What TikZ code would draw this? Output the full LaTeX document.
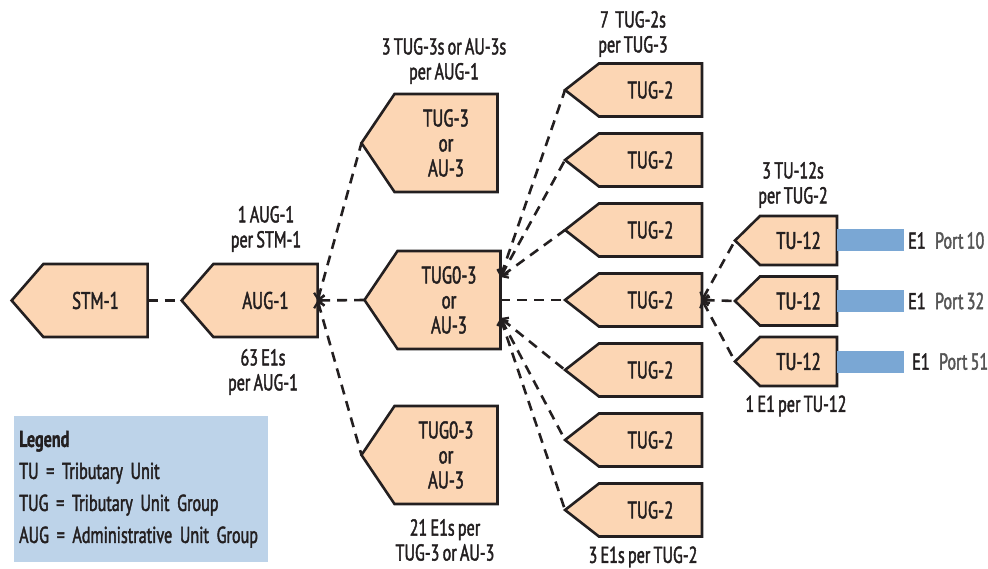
\documentclass[tikz,border=0pt]{standalone}
\usepackage{fontspec}
\setmainfont{PT Sans}[FakeStretch=0.7,WordSpace=0.75,UprightFeatures={FakeBold=1.8},BoldFeatures={FakeBold=1.2}]
\usetikzlibrary{arrows.meta,positioning,shapes.symbols,calc}
\definecolor{peach}{RGB}{252,214,180}
\definecolor{inkline}{RGB}{35,31,32}
\definecolor{barblue}{RGB}{122,167,212}
\definecolor{legendblue}{RGB}{189,211,233}
\definecolor{portgray}{RGB}{85,85,85}

\begin{document}
\begin{tikzpicture}[x=1pt,y=-1pt,
    unit/.style={shape=signal,signal to=west,draw=inkline,fill=peach,line width=2.6pt,align=center,
      outer sep=0pt,inner sep=2pt,text=inkline,font=\fontsize{24}{25}\selectfont},
    stmbox/.style={unit,minimum width=136pt,minimum height=73pt,signal pointer angle=98},
    tugthreebox/.style={unit,minimum width=136pt,minimum height=98pt,signal pointer angle=112},
    tugtwobox/.style={unit,minimum width=137pt,minimum height=53pt,signal pointer angle=76},
    tubox/.style={unit,minimum width=102pt,minimum height=49pt,signal pointer angle=89},
    link/.style={draw=inkline,line width=2.6pt,dash pattern=on 10pt off 7pt},
    lbl/.style={align=center,text=inkline,font=\fontsize{23}{25}\selectfont},
    bar/.style={rectangle,fill=barblue,minimum width=67pt,minimum height=22pt,inner sep=0pt,outer sep=0pt},
    >={Straight Barb[length=5pt,width=11pt,line width=2.2pt]}]
    \useasboundingbox (0,0) rectangle (988,569);

    % Main chain
    \node[stmbox] (stm) at (95.5,300.5) {STM-1};
    \node[stmbox] (aug) at (265.5,300.5) {AUG-1};
    \node[tugthreebox] (t3top) at (446,143) {TUG-3\\or\\AU-3};
    \node[tugthreebox] (t3mid) at (449,300) {TUG0-3\\or\\AU-3};
    \node[tugthreebox] (t3bot) at (446,455) {TUG0-3\\or\\AU-3};

    % TUG-2 column
    \node[tugtwobox] (t2a) at (650.5,90) {TUG-2};
    \node[tugtwobox,below=17pt of t2a] (t2b) {TUG-2};
    \node[tugtwobox,below=17pt of t2b] (t2c) {TUG-2};
    \node[tugtwobox,below=17pt of t2c] (t2d) {TUG-2};
    \node[tugtwobox,below=17pt of t2d] (t2e) {TUG-2};
    \node[tugtwobox,below=17pt of t2e] (t2f) {TUG-2};
    \node[tugtwobox,below=17pt of t2f] (t2g) {TUG-2};

    % TU-12 column with E1 ports
    \node[tubox] (tu1) at (798.5,240.5) {TU-12};
    \node[tubox,below=11.5pt of tu1] (tu2) {TU-12};
    \node[tubox,below=11.5pt of tu2] (tu3) {TU-12};
    \node[bar,right=0pt of tu1] (bar1) {};
    \node[bar,right=0pt of tu2] (bar2) {};
    \node[bar,right=0pt of tu3] (bar3) {};
    \node[lbl,inner sep=2pt,right=2pt of bar1] (e1a) {E1};
    \node[lbl,inner sep=2pt,right=2pt of bar2] (e1b) {E1};
    \node[lbl,inner sep=2pt,right=6pt of bar3] (e1c) {E1};
    \node[lbl,inner sep=2pt,text=portgray,right=5pt of e1a] (porta) {Port 10};
    \node[lbl,inner sep=2pt,text=portgray,right=5pt of e1b] (portb) {Port 32};
    \node[lbl,inner sep=2pt,text=portgray,right=5pt of e1c] (portc) {Port 51};

    % Fan-out points
    \coordinate (t3up) at ($(t3mid.east)+(0,-23)$);
    \coordinate (t3dn) at ($(t3mid.east)+(0,18)$);

    % Connectors
    \draw[link] (stm.east) -- (aug.west);
    \draw[link,<-] (aug.east) -- (t3top.west);
    \draw[link,<-] (aug.east) -- (t3mid.west);
    \draw[link,<-] (aug.east) -- (t3bot.west);
    \draw[link,<-] (t3up) -- (t2a.west);
    \draw[link,<-] (t3up) -- (t2b.west);
    \draw[link,<-] (t3up) -- (t2c.west);
    \draw[link] (t3mid.east) -- (t2d.west);
    \draw[link,<-] (t3dn) -- (t2e.west);
    \draw[link,<-] (t3dn) -- (t2f.west);
    \draw[link,<-] (t3dn) -- (t2g.west);
    \draw[link,<-] (t2d.east) -- (tu1.west);
    \draw[link,<-] (t2d.east) -- (tu2.west);
    \draw[link,<-] (t2d.east) -- (tu3.west);

    % Labels
    \node[lbl] (perstm) at (266,229) {1 AUG-1\\per STM-1};
    \node[lbl] (peraug) at (263,372) {63 E1s\\per AUG-1};
    \node[lbl] (pertugthree) at (444,61) {3 TUG-3s or AU-3s\\per AUG-1};
    \node[lbl] (pertugtwo) at (633,34) {7~~TUG-2s\\per TUG-3};
    \node[lbl] (pertu) at (793,185) {3 TU-12s\\per TUG-2};
    \node[lbl] (onee) at (796,406) {1 E1 per TU-12};
    \node[lbl] (twentyone) at (445,540) {21 E1s per\\TUG-3 or AU-3};
    \node[lbl] (threee) at (643,557) {3 E1s per TUG-2};

    % Legend
    \node[fill=legendblue,anchor=north west,minimum width=254pt,minimum height=146pt,text width=244pt,
      inner xsep=5pt,align=left,text=inkline,font=\fontsize{23}{32}\selectfont] (legend) at (14,416)
      {\textbf{Legend}\\TU = Tributary Unit\\TUG = Tributary Unit Group\\AUG = Administrative Unit Group};
\end{tikzpicture}
\end{document}
